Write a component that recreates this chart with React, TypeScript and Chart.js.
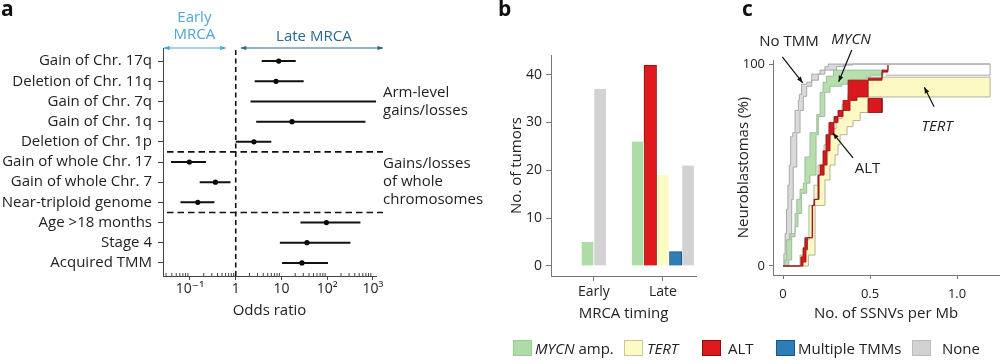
import React, { useEffect, useRef } from 'react';
import { Chart, registerables } from 'chart.js';

Chart.register(...registerables);

const FONT = "'Open Sans', 'DejaVu Sans', sans-serif";
Chart.defaults.font.family = FONT;
Chart.defaults.color = '#222';

// ---------------- Panel a: forest plot ----------------
const rowLabels = [
  'Gain of Chr. 17q',
  'Deletion of Chr. 11q',
  'Gain of Chr. 7q',
  'Gain of Chr. 1q',
  'Deletion of Chr. 1p',
  'Gain of whole Chr. 17',
  'Gain of whole Chr. 7',
  'Near-triploid genome',
  'Age >18 months',
  'Stage 4',
  'Acquired TMM',
];
const oddsRatio = [8.7, 7.6, null, 17, 2.5, 0.097, 0.36, 0.148, 96, 36, 28];
const ciLow = [3.7, 2.6, 2.1, 2.8, 1.0, 0.0385, 0.163, 0.062, 26, 9.2, 10.3];
const ciHigh = [20.5, 30.6, 1165, 684, 6.0, 0.224, 0.766, 0.342, 531, 321, 104];
const orTickValues = [0.1, 1, 10, 100, 1000];
const orTickLabels = ['10\u207B\u00B9', '1', '10', '10\u00B2', '10\u00B3'];
const orMinorTicks = [
  0.03, 0.04, 0.05, 0.06, 0.07, 0.08, 0.09,
  0.2, 0.3, 0.4, 0.5, 0.6, 0.7, 0.8, 0.9,
  2, 3, 4, 5, 6, 7, 8, 9,
  20, 30, 40, 50, 60, 70, 80, 90,
  200, 300, 400, 500, 600, 700, 800, 900,
];
const groupBreaks = [5, 8];
const groupLabels = [
  { lines: ['Arm-level', 'gains/losses'], row: 2 },
  { lines: ['Gains/losses', 'of whole', 'chromosomes'], row: 6 },
];

// ---------------- Panel b: bars ----------------
const timingLabels = ['Early', 'Late'];
const mycnAmpCounts = [5, 26];
const altCounts = [null, 42];
const tertCounts = [null, 19];
const multipleTmmCounts = [null, 3];
const noneCounts = [37, 21];
const countTicks = [0, 10, 20, 30, 40];

// ---------------- Panel c: cumulative bands ----------------
const noneUpperX = [0, 0.005, 0.012, 0.02, 0.028, 0.036, 0.044, 0.056, 0.069, 0.088, 0.094, 0.107, 0.136, 0.165, 0.213, 0.241, 0.26, 1.19];
const noneUpperY = [0, 6, 16, 28, 40, 50, 64, 66, 77, 82, 85, 90, 91, 95, 97, 98.7, 100, 100];
const noneLowerX = [0, 0.031, 0.04, 0.05, 0.059, 0.079, 0.098, 0.117, 0.136, 0.165, 0.203, 0.241, 0.308, 0.347, 0.4, 1.19];
const noneLowerY = [0, 5, 16, 33, 49, 66, 77, 84, 89, 92, 95, 97, 98.7, 99.5, 100, 100];

const mycnUpperX = [0, 0.011, 0.021, 0.04, 0.069, 0.079, 0.098, 0.117, 0.126, 0.155, 0.194, 0.213, 0.23, 0.25, 0.29, 0.575];
const mycnUpperY = [0, 3, 13, 16, 26, 33, 38, 41, 54, 66, 75, 86, 91, 94, 97, 97];
const mycnLowerX = [0, 0.034, 0.05, 0.069, 0.086, 0.107, 0.136, 0.155, 0.19, 0.203, 0.24, 0.27, 0.337, 0.385, 0.5, 0.575];
const mycnLowerY = [0, 3, 14.5, 19.5, 26, 36, 41, 45, 65, 74, 86, 89, 90, 92, 94.5, 97];

const tertUpperX = [0, 0.098, 0.126, 0.149, 0.178, 0.201, 0.236, 0.27, 0.305, 0.339, 0.374, 0.431, 0.477, 1.19];
const tertUpperY = [0, 5.4, 12.9, 30, 40, 50, 60, 68, 73, 80, 85, 90, 93.5, 93.5];
const tertLowerX = [0, 0.146, 0.184, 0.241, 0.27, 0.299, 0.316, 0.328, 0.368, 0.402, 0.443, 0.489, 1.19];
const tertLowerY = [0, 5.4, 30, 42.6, 50, 55, 60, 65, 69, 72, 76, 83.7, 93.5];

const altUpperX = [0, 0.103, 0.115, 0.126, 0.167, 0.178, 0.201, 0.213, 0.23, 0.247, 0.264, 0.293, 0.316, 0.345, 0.374, 0.569, 0.603];
const altUpperY = [0, 4.5, 9, 14, 30, 33, 45, 50, 57, 65, 71, 74, 77, 82, 92, 97, 99.5];
const altLowerX = [0, 0.115, 0.132, 0.14, 0.17, 0.182, 0.207, 0.236, 0.253, 0.27, 0.293, 0.316, 0.345, 0.385, 0.425, 0.489, 0.569, 0.603];
const altLowerY = [0, 2, 8, 14, 30, 33, 45, 50, 57, 65, 71, 74, 77, 82, 83.7, 93, 96, 99.5];

const altOutlierX = [0.489, 0.489, 0.569, 0.569, 0.489];
const altOutlierY = [76, 83, 83, 76, 76];
const tailBoxX = [0.59, 1.19, 1.19];
const tailBoxY = [94.5, 94.5, 100];

const ssnvTicks = [0, 0.5, 1];
const ssnvTickLabels = ['0', '0.5', '1.0'];
const pctTicks = [0, 100];

const cAnnotations = [
  { text: 'No TMM', italic: false, at: [0.034, 111], from: [-0.004, 103.6], to: [0.113, 90.7] },
  { text: 'MYCN', italic: true, at: [0.391, 112], from: [0.395, 107], to: [0.32, 91.2] },
  { text: 'TERT', italic: true, at: [0.885, 68.8], from: [0.868, 78.9], to: [0.812, 88.5] },
  { text: 'ALT', italic: false, at: [0.486, 48.3], from: [0.402, 53.5], to: [0.287, 65.8] },
];

// ---------------- styles ----------------
const COL = {
  mycn: '#aedca6',
  tert: '#fdfbc4',
  alt: '#e0191c',
  altBorder: '#7e1416',
  multi: '#2d7db8',
  multiBorder: '#1c5686',
  none: '#d2d2d2',
};
const legendNames = ['MYCN amp.', 'TERT', 'ALT', 'Multiple TMMs', 'None'];
const geneNames = ['MYCN', 'TERT'];
const legendColors = [COL.mycn, COL.tert, COL.alt, COL.multi, COL.none];
const legendBorders = ['#9cc995', '#c9c7a0', COL.altBorder, COL.multiBorder, '#bdbdbd'];
const legendBoxLeft = [513, 624, 702, 776, 912];
const legendTextLeft = [535, 647, 728, 798, 942];

const zip = (xs, ys) => xs.map((x, i) => ({ x, y: ys[i] }));

function drawArrow(ctx, x1, y1, x2, y2, color, both = false, head = 6.5, lw = 1.2) {
  const ang = Math.atan2(y2 - y1, x2 - x1);
  ctx.save();
  ctx.strokeStyle = color;
  ctx.fillStyle = color;
  ctx.lineWidth = lw;
  ctx.setLineDash([]);
  ctx.beginPath();
  ctx.moveTo(x1, y1);
  ctx.lineTo(x2, y2);
  ctx.stroke();
  const tip = (tx, ty, a) => {
    ctx.beginPath();
    ctx.moveTo(tx, ty);
    ctx.lineTo(tx - head * Math.cos(a - 0.38), ty - head * Math.sin(a - 0.38));
    ctx.lineTo(tx - head * Math.cos(a + 0.38), ty - head * Math.sin(a + 0.38));
    ctx.closePath();
    ctx.fill();
  };
  tip(x2, y2, ang);
  if (both) tip(x1, y1, ang + Math.PI);
  ctx.restore();
}

function panelLetter(ctx, letter, x) {
  ctx.save();
  ctx.font = `bold 21px ${FONT}`;
  ctx.fillStyle = '#111';
  ctx.textAlign = 'left';
  ctx.textBaseline = 'alphabetic';
  ctx.fillText(letter, x, 16);
  ctx.restore();
}

const axisA = '#444';
const axisBC = '#777';

function makeA(canvas) {
  const ciPoints = rowLabels.flatMap((_, i) => [
    { x: ciLow[i], y: i },
    { x: ciHigh[i], y: i },
    { x: ciHigh[i], y: null },
  ]);
  const orPoints = oddsRatio
    .map((v, i) => (v == null ? null : { x: v, y: i }))
    .filter((p) => p !== null);

  const plugin = {
    id: 'panelA',
    beforeDatasetsDraw(chart) {
      const { ctx, chartArea: ca, scales } = chart;
      const x = scales.x;
      const y = scales.y;
      ctx.save();
      ctx.strokeStyle = '#111';
      ctx.lineWidth = 1.6;
      ctx.setLineDash([5, 3.5]);
      const x1 = x.getPixelForValue(1);
      ctx.beginPath();
      ctx.moveTo(x1, ca.top + 2);
      ctx.lineTo(x1, ca.bottom);
      ctx.stroke();
      ctx.setLineDash([6.5, 4]);
      for (const b of groupBreaks) {
        const yy = y.getPixelForValue(b - 0.5);
        ctx.beginPath();
        ctx.moveTo(ca.left + 4, yy);
        ctx.lineTo(ca.right + 7, yy);
        ctx.stroke();
      }
      ctx.setLineDash([]);
      ctx.strokeStyle = axisA;
      ctx.lineWidth = 1;
      for (const v of orMinorTicks) {
        const px = x.getPixelForValue(v);
        ctx.beginPath();
        ctx.moveTo(px, ca.bottom);
        ctx.lineTo(px, ca.bottom - 3);
        ctx.stroke();
      }
      ctx.restore();
    },
    afterDraw(chart) {
      const { ctx, chartArea: ca, scales } = chart;
      const x = scales.x;
      const y = scales.y;
      const x1 = x.getPixelForValue(1);
      const early = '#4ea5d6';
      const late = '#2a6a8f';
      drawArrow(ctx, ca.left + 1, ca.top, x1 - 10, ca.top, early, true, 6, 1.2);
      drawArrow(ctx, x1 + 5, ca.top, ca.right + 7, ca.top, late, true, 6, 1.2);
      ctx.save();
      ctx.font = `15px ${FONT}`;
      ctx.textAlign = 'center';
      ctx.textBaseline = 'middle';
      ctx.fillStyle = early;
      const ex = (ca.left + x1 - 10) / 2;
      ctx.fillText('Early', ex, 18);
      ctx.fillText('MRCA', ex, 35);
      ctx.fillStyle = late;
      ctx.fillText('Late MRCA', (x1 + 5 + ca.right + 7) / 2 + 2, 37);
      ctx.fillStyle = '#222';
      ctx.textAlign = 'left';
      for (const g of groupLabels) {
        const cy = y.getPixelForValue(g.row);
        g.lines.forEach((t, k) => {
          ctx.fillText(t, ca.right + 7, cy + (k - (g.lines.length - 1) / 2) * 18);
        });
      }
      ctx.restore();
      panelLetter(ctx, 'a', 1);
    },
  };

  return new Chart(canvas, {
    type: 'scatter',
    data: {
      datasets: [
        {
          type: 'line',
          data: ciPoints,
          borderColor: '#111',
          borderWidth: 2,
          pointRadius: 0,
          spanGaps: false,
          fill: false,
        },
        {
          type: 'scatter',
          data: orPoints,
          pointRadius: 2.6,
          pointBackgroundColor: '#000',
          pointBorderWidth: 0,
        },
      ],
    },
    options: {
      responsive: false,
      animation: false,
      events: [],
      layout: { padding: { left: 0, right: 124, top: 48, bottom: 40 } },
      plugins: { legend: { display: false }, tooltip: { enabled: false } },
      scales: {
        x: {
          type: 'logarithmic',
          min: 0.0257,
          max: 1165,
          bounds: 'data',
          afterBuildTicks: (s) => {
            s.ticks = orTickValues.map((v) => ({ value: v }));
          },
          afterFit: (s) => {
            s.height = 48;
          },
          ticks: {
            callback: (v, i) => orTickLabels[i],
            font: { size: 14 },
            color: '#222',
            padding: 1,
            autoSkip: false,
            maxRotation: 0,
          },
          grid: { drawOnChartArea: false, drawTicks: true, tickLength: 4, color: axisA },
          border: { display: true, color: axisA, width: 1 },
          title: { display: true, text: 'Odds ratio', font: { size: 15 }, color: '#222', padding: { top: 4, bottom: 4 } },
        },
        y: {
          type: 'linear',
          reverse: true,
          min: -0.65,
          max: 10.65,
          bounds: 'data',
          afterBuildTicks: (s) => {
            s.ticks = rowLabels.map((_, i) => ({ value: i }));
          },
          afterFit: (s) => {
            s.width = 163;
          },
          ticks: {
            callback: (v) => rowLabels[v],
            font: { size: 15 },
            color: '#222',
            padding: 6,
            autoSkip: false,
          },
          grid: { drawOnChartArea: false, drawTicks: true, tickLength: 5, color: axisA },
          border: { display: true, color: axisA, width: 1 },
        },
      },
    },
    plugins: [plugin],
  });
}

function makeB(canvas) {
  const whiteSides = { left: 0.8, right: 0.8, top: 0, bottom: 0 };
  const series = [
    { label: 'MYCN amp.', values: mycnAmpCounts, bg: COL.mycn, border: '#ffffff', bw: whiteSides },
    { label: 'ALT', values: altCounts, bg: COL.alt, border: COL.altBorder, bw: 1 },
    { label: 'TERT', values: tertCounts, bg: COL.tert, border: '#ffffff', bw: whiteSides },
    { label: 'Multiple TMMs', values: multipleTmmCounts, bg: COL.multi, border: COL.multiBorder, bw: 1 },
    { label: 'None', values: noneCounts, bg: COL.none, border: '#ffffff', bw: whiteSides },
  ];
  const plugin = {
    id: 'panelB',
    afterDraw(chart) {
      panelLetter(chart.ctx, 'b', 18);
    },
  };
  return new Chart(canvas, {
    type: 'bar',
    data: {
      datasets: series.map((s) => ({
        label: s.label,
        data: s.values.map((v, i) => ({ x: i, y: v })),
        backgroundColor: s.bg,
        borderColor: s.border,
        borderWidth: s.bw,
        skipNull: true,
        barThickness: 12.6,
      })),
    },
    options: {
      responsive: false,
      animation: false,
      events: [],
      layout: { padding: { left: 24, right: 44, top: 55, bottom: 37 } },
      plugins: { legend: { display: false }, tooltip: { enabled: false } },
      scales: {
        x: {
          type: 'linear',
          min: -0.62,
          max: 1.48,
          bounds: 'data',
          offset: false,
          afterBuildTicks: (s) => {
            s.ticks = timingLabels.map((_, i) => ({ value: i }));
          },
          afterFit: (s) => {
            s.height = 51;
          },
          ticks: { callback: (v) => timingLabels[v], font: { size: 14 }, color: '#222', padding: 3, autoSkip: false, maxRotation: 0 },
          grid: { offset: false, drawOnChartArea: false, drawTicks: true, tickLength: 5, color: axisBC },
          border: { display: true, color: axisBC, width: 1 },
          title: { display: true, text: 'MRCA timing', font: { size: 15 }, color: '#222', padding: { top: 4, bottom: 4 } },
        },
        y: {
          type: 'linear',
          min: -2.1,
          max: 44.1,
          bounds: 'data',
          afterBuildTicks: (s) => {
            s.ticks = countTicks.map((v) => ({ value: v }));
          },
          afterFit: (s) => {
            s.width = 47;
          },
          ticks: { font: { size: 14 }, color: '#222', padding: 4, autoSkip: false },
          grid: { drawOnChartArea: false, drawTicks: true, tickLength: 5, color: axisBC },
          border: { display: true, color: axisBC, width: 1 },
          title: { display: true, text: 'No. of tumors', font: { size: 15 }, color: '#222', padding: { top: 4, bottom: 4 } },
        },
      },
    },
    plugins: [plugin],
  });
}

function makeC(canvas) {
  const band = (xsU, ysU, xsL, ysL, fillColor, lineColor, order) => [
    { data: zip(xsL, ysL), stepped: true, fill: false, borderColor: lineColor, borderWidth: 0.9, pointRadius: 0, order },
    { data: zip(xsU, ysU), stepped: true, fill: '-1', backgroundColor: fillColor, borderColor: lineColor, borderWidth: 0.9, pointRadius: 0, order },
  ];
  const datasets = [
    { data: zip(tailBoxX, tailBoxY), fill: false, borderColor: '#9e9e9e', borderWidth: 0.9, pointRadius: 0, order: 0 },
    { data: zip(altOutlierX, altOutlierY), fill: 'shape', backgroundColor: '#d8181d', borderColor: '#8e1b1b', borderWidth: 0.9, pointRadius: 0, order: 1 },
    ...band(altUpperX, altUpperY, altLowerX, altLowerY, '#d8181d', '#8e1b1b', 2),
    ...band(tertUpperX, tertUpperY, tertLowerX, tertLowerY, '#fdf9c2', '#aaa99a', 3),
    ...band(mycnUpperX, mycnUpperY, mycnLowerX, mycnLowerY, '#b7dfae', '#9bb596', 4),
    ...band(noneUpperX, noneUpperY, noneLowerX, noneLowerY, '#dadada', '#a2a2a2', 5),
  ];
  const plugin = {
    id: 'panelC',
    afterDraw(chart) {
      const { ctx, scales } = chart;
      const x = scales.x;
      const y = scales.y;
      const px = (p) => [x.getPixelForValue(p[0]), y.getPixelForValue(p[1])];
      ctx.save();
      for (const a of cAnnotations) {
        const [fx, fy] = px(a.from);
        const [tx, ty] = px(a.to);
        drawArrow(ctx, fx, fy, tx, ty, '#111', false, 6.5, 1.2);
        const [lx, ly] = px(a.at);
        ctx.font = `${a.italic ? 'italic ' : ''}15px ${FONT}`;
        ctx.fillStyle = '#222';
        ctx.textAlign = 'center';
        ctx.textBaseline = 'middle';
        ctx.fillText(a.text, lx, ly);
      }
      ctx.restore();
      panelLetter(ctx, 'c', 12);
    },
  };
  return new Chart(canvas, {
    type: 'line',
    data: { datasets },
    options: {
      responsive: false,
      animation: false,
      events: [],
      layout: { padding: { left: 1, right: 1, top: 60, bottom: 37 } },
      plugins: { legend: { display: false }, tooltip: { enabled: false } },
      scales: {
        x: {
          type: 'linear',
          min: -0.0575,
          max: 1.241,
          bounds: 'data',
          afterBuildTicks: (s) => {
            s.ticks = ssnvTicks.map((v) => ({ value: v }));
          },
          afterFit: (s) => {
            s.height = 52;
          },
          ticks: { callback: (v, i) => ssnvTickLabels[i], font: { size: 13 }, color: '#222', padding: 7, autoSkip: false, maxRotation: 0 },
          grid: { drawOnChartArea: false, drawTicks: true, tickLength: 4, color: axisBC },
          border: { display: true, color: axisBC, width: 1 },
          title: { display: true, text: 'No. of SSNVs per Mb', font: { size: 15 }, color: '#222', padding: { top: 4, bottom: 4 } },
        },
        y: {
          type: 'linear',
          min: -4.46,
          max: 102,
          bounds: 'data',
          afterBuildTicks: (s) => {
            s.ticks = pctTicks.map((v) => ({ value: v }));
          },
          afterFit: (s) => {
            s.width = 42;
          },
          ticks: { font: { size: 13 }, color: '#222', padding: 4, autoSkip: false },
          grid: { drawOnChartArea: false, drawTicks: true, tickLength: 4, color: axisBC },
          border: { display: true, color: axisBC, width: 1 },
          title: { display: true, text: 'Neuroblastomas (%)', font: { size: 15 }, color: '#222', padding: { top: 4, bottom: 4 } },
        },
      },
    },
    plugins: [plugin],
  });
}

function LegendLabel({ name }: { name: string }) {
  const [first, ...rest] = name.split(' ');
  if (geneNames.includes(first)) {
    return (
      <>
        <i>{first}</i>
        {rest.length ? ' ' + rest.join(' ') : ''}
      </>
    );
  }
  return <>{name}</>;
}

export default function App() {
  const refA = useRef<HTMLCanvasElement>(null);
  const refB = useRef<HTMLCanvasElement>(null);
  const refC = useRef<HTMLCanvasElement>(null);

  useEffect(() => {
    const charts = [makeA(refA.current), makeB(refB.current), makeC(refC.current)];
    return () => charts.forEach((c) => c.destroy());
  }, []);

  return (
    <div
      style={{
        position: 'absolute',
        left: 0,
        top: 0,
        width: 1000,
        height: 364,
        background: '#fff',
        overflow: 'hidden',
        fontFamily: FONT,
        color: '#222',
      }}
    >
      <canvas ref={refA} width={500} height={364} style={{ position: 'absolute', left: 0, top: 0 }} />
      <canvas ref={refB} width={260} height={364} style={{ position: 'absolute', left: 480, top: 0 }} />
      <canvas ref={refC} width={270} height={364} style={{ position: 'absolute', left: 730, top: 0 }} />
      {legendNames.map((name, i) => (
        <React.Fragment key={name}>
          <div
            style={{
              position: 'absolute',
              left: legendBoxLeft[i],
              top: 340,
              width: 19,
              height: 16,
              boxSizing: 'border-box',
              background: legendColors[i],
              border: `1px solid ${legendBorders[i]}`,
            }}
          />
          <div
            style={{
              position: 'absolute',
              left: legendTextLeft[i],
              top: 338,
              height: 20,
              lineHeight: '20px',
              fontSize: 15,
              whiteSpace: 'nowrap',
            }}
          >
            <LegendLabel name={name} />
          </div>
        </React.Fragment>
      ))}
    </div>
  );
}
